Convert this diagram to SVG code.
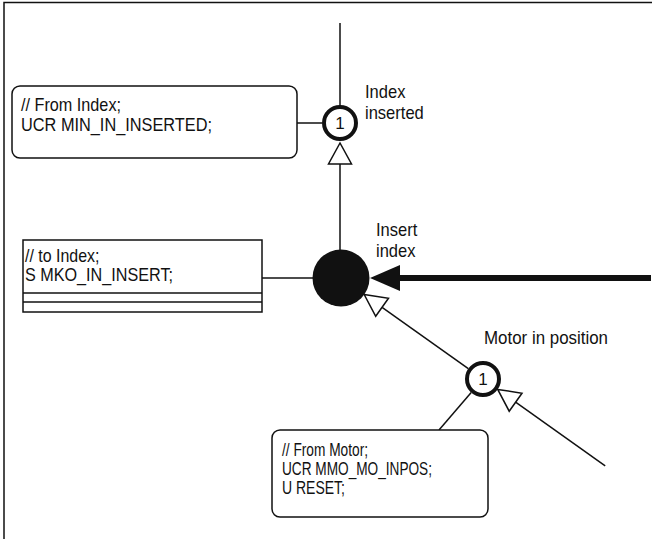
<svg xmlns="http://www.w3.org/2000/svg" width="652" height="539" viewBox="0 0 652 539">
<style>
  .ln{stroke:#111;stroke-width:1.5;fill:none}
  .box{stroke:#111;stroke-width:1.5;fill:#fff}
  .tri{stroke:#111;stroke-width:1.5;fill:#fff;stroke-linejoin:miter}
  .ring{stroke:#111;stroke-width:4;fill:#fff}
  .t{font-family:"Liberation Sans",Arial,sans-serif;font-size:19px;fill:#111}
  .lb{font-family:"Liberation Sans",Arial,sans-serif;font-size:19px;fill:#111}
  .num{font-family:"Liberation Sans",Arial,sans-serif;font-size:17px;fill:#111;text-anchor:middle}
</style>
<rect width="652" height="539" fill="#fff"/>
<g id="frame">
  <path class="ln" d="M4,539 V2.5 H652"/>
</g>
<g id="connectors">
  <line class="ln" x1="340" y1="23" x2="340" y2="107"/>
  <line class="ln" x1="297" y1="123" x2="322" y2="123"/>
  <line class="ln" x1="340" y1="164" x2="340" y2="250"/>
  <polygon class="tri" points="340,143 328.5,164 351.5,164"/>
  <line class="ln" x1="262" y1="278" x2="313" y2="278"/>
  <line x1="398" y1="278" x2="651" y2="278" stroke="#111" stroke-width="6"/>
  <polygon points="370,278 400,265 400,291" fill="#111"/>
  <line class="ln" x1="468.3" y1="368.6" x2="382.1" y2="307.3"/>
  <polygon class="tri" points="364.2,294.5 388.5,298.3 375.7,316.3"/>
  <line class="ln" x1="605.2" y1="465.9" x2="515.6" y2="402.2"/>
  <polygon class="tri" points="497.7,389.4 522,393.2 509.2,411.2"/>
  <line class="ln" x1="471.2" y1="392.6" x2="439" y2="430"/>
</g>
<g id="box-from-index">
  <rect class="box" x="12" y="86" width="285" height="72" rx="8"/>
  <text class="t" x="21" y="110.5" textLength="100" lengthAdjust="spacingAndGlyphs">// From Index;</text>
  <text class="t" x="21" y="130.5" textLength="191" lengthAdjust="spacingAndGlyphs">UCR MIN_IN_INSERTED;</text>
</g>
<g id="state-index-inserted">
  <circle class="ring" cx="340" cy="123" r="16"/>
  <text class="num" x="340" y="129">1</text>
  <text class="lb" x="365" y="98" textLength="40.4" lengthAdjust="spacingAndGlyphs">Index</text>
  <text class="lb" x="365" y="118.5" textLength="58.8" lengthAdjust="spacingAndGlyphs">inserted</text>
</g>
<g id="box-to-index">
  <rect class="box" x="23" y="240" width="239" height="72"/>
  <line class="ln" x1="23" y1="293" x2="262" y2="293"/>
  <line class="ln" x1="23" y1="302" x2="262" y2="302"/>
  <text class="t" x="25" y="261.5" textLength="74.5" lengthAdjust="spacingAndGlyphs">// to Index;</text>
  <text class="t" x="25" y="280.5" textLength="148" lengthAdjust="spacingAndGlyphs">S MKO_IN_INSERT;</text>
</g>
<g id="state-insert-index">
  <circle cx="341" cy="278" r="28.5" fill="#111"/>
  <text class="lb" x="376" y="236" textLength="41.3" lengthAdjust="spacingAndGlyphs">Insert</text>
  <text class="lb" x="376" y="257" textLength="39.5" lengthAdjust="spacingAndGlyphs">index</text>
</g>
<g id="state-motor-in-position">
  <circle class="ring" cx="483" cy="379" r="16"/>
  <text class="num" x="483" y="385">1</text>
  <text class="lb" x="484" y="344" textLength="124" lengthAdjust="spacingAndGlyphs">Motor in position</text>
</g>
<g id="box-from-motor">
  <rect class="box" x="272" y="430" width="216" height="87" rx="8"/>
  <text class="t" x="282" y="456" textLength="86" lengthAdjust="spacingAndGlyphs">// From Motor;</text>
  <text class="t" x="282" y="475" textLength="150" lengthAdjust="spacingAndGlyphs">UCR MMO_MO_INPOS;</text>
  <text class="t" x="282" y="494" textLength="63" lengthAdjust="spacingAndGlyphs">U RESET;</text>
</g>
</svg>
